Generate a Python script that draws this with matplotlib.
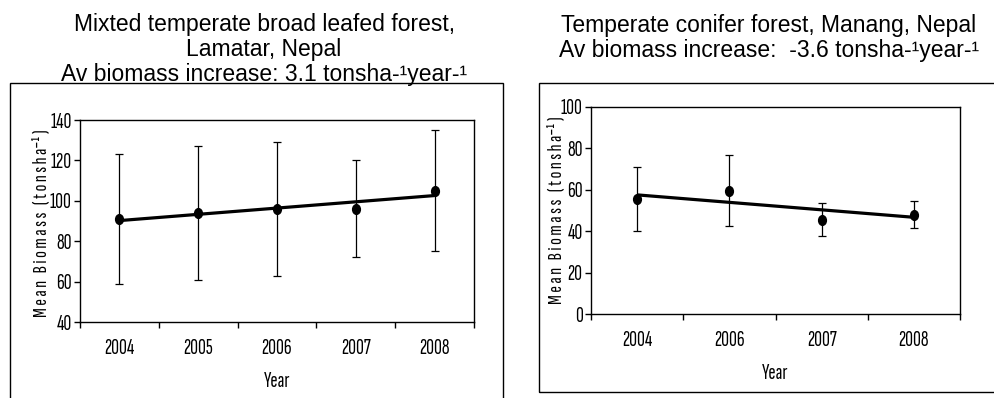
import numpy as np
import matplotlib
matplotlib.use("Agg")
import matplotlib.pyplot as plt
from matplotlib.markers import MarkerStyle
from matplotlib.patches import Rectangle
from matplotlib.transforms import Affine2D

# Lamatar: mixed temperate broad leafed forest
lam_years = ["2004", "2005", "2006", "2007", "2008"]
lam_mean = [91, 94, 96, 96, 105]
lam_sd = [32, 33, 33, 24, 30]
lam_slope = 3.1

# Manang: temperate conifer forest
man_years = ["2004", "2006", "2007", "2008"]
man_mean = [55.5, 59.5, 45.5, 48]
man_sd = [15.5, 17, 8, 6.5]
man_slope = -3.6

narrow = ["Sofia Sans Extra Condensed", "Roboto Condensed", "DejaVu Sans"]
title_font = ["Liberation Sans", "DejaVu Sans"]

ylab = "M e a n   B i o m a s s   ( t o n s h a\u207b\u00b9 )"

fig = plt.figure(figsize=(9.94, 3.98), dpi=100)

# outer chart frames
fig.patches.append(Rectangle((10 / 994, -0.05), 493 / 994, 1.05 - 83 / 398,
                             transform=fig.transFigure, fill=False,
                             edgecolor="black", linewidth=1.0))
fig.patches.append(Rectangle((539 / 994, 1 - 392 / 398), 0.5, (392 - 83) / 398,
                             transform=fig.transFigure, fill=False,
                             edgecolor="black", linewidth=1.0))


def panel(ax, years, mean, sd, slope, ylim, yticks):
    x = np.arange(len(years))
    ax.errorbar(x, mean, yerr=sd, fmt="none", ecolor="black",
                elinewidth=0.9, capsize=3.2, capthick=0.9, zorder=2)
    oval = MarkerStyle("o", transform=Affine2D().scale(0.8, 1.0))
    ax.plot(x, mean, linestyle="none", marker=oval, markersize=7,
            color="black", zorder=3)
    # linear trend through the mean point using the stated yearly change
    trend = np.mean(mean) + slope * (x - x.mean())
    ax.plot(x, trend, color="black", linewidth=2.3, zorder=4,
            solid_capstyle="butt")

    ax.set_xlim(-0.5, len(years) - 0.5)
    ax.set_ylim(*ylim)
    ax.set_yticks(yticks)
    ax.set_xticks(np.arange(len(years) + 1) - 0.5)
    ax.set_xticklabels([])
    ax.set_xticks(x, years, minor=True)
    ax.tick_params(axis="x", which="major", direction="out", length=4, width=1)
    ax.tick_params(axis="x", which="minor", length=0, pad=12)
    ax.tick_params(axis="y", direction="out", length=4, width=1, pad=2)
    for lab in ax.get_xticklabels(minor=True) + ax.get_yticklabels():
        lab.set_family(narrow)
        lab.set_fontsize(15.5)
    for sp in ax.spines.values():
        sp.set_linewidth(1.0)
    ax.set_xlabel("Year", family=narrow, fontsize=15.5, labelpad=10)
    ax.set_ylabel(ylab, family=narrow, fontsize=14.5)


ax1 = fig.add_axes([80 / 994, 1 - 322 / 398, 394 / 994, 202 / 398])
panel(ax1, lam_years, lam_mean, lam_sd, lam_slope, (40, 140), range(40, 141, 20))
ax1.yaxis.set_label_coords(-0.075, 0.49)

ax2 = fig.add_axes([591 / 994, 1 - 314.3 / 398, 369 / 994, 207.6 / 398])
panel(ax2, man_years, man_mean, man_sd, man_slope, (0, 100), range(0, 101, 20))
ax2.yaxis.set_label_coords(-0.07, 0.5)

fig.text(264 / 994, 1 - 13 / 398,
         "Mixted temperate broad leafed forest,\nLamatar, Nepal\n"
         "Av biomass increase: %.1f tonsha-\u00b9year-\u00b9" % lam_slope,
         ha="center", va="top", family=title_font, fontsize=16.5, linespacing=1.1)
fig.text(769 / 994, 1 - 14 / 398,
         "Temperate conifer forest, Manang, Nepal\n"
         "Av biomass increase:  %.1f tonsha-\u00b9year-\u00b9" % man_slope,
         ha="center", va="top", family=title_font, fontsize=16.5, linespacing=1.1)

fig.savefig("out.png", dpi=100)
